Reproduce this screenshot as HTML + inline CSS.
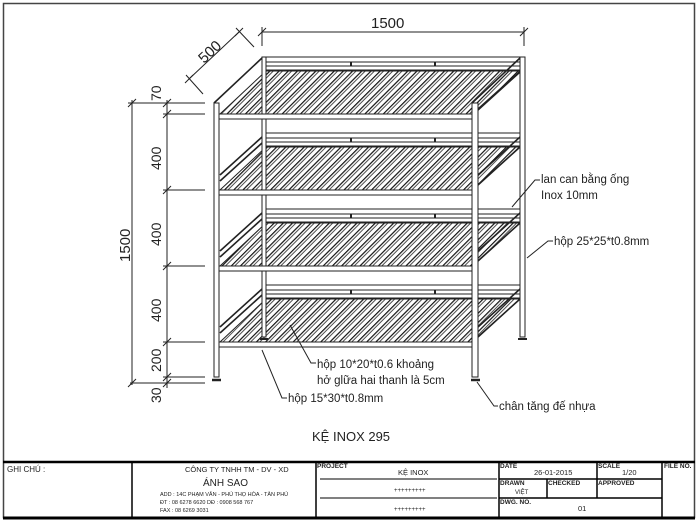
<!DOCTYPE html>
<html><head><meta charset="utf-8"><style>
body{margin:0;background:#fff}
svg{display:block;font-family:"Liberation Sans",sans-serif}
</style></head><body>
<svg width="700" height="522" viewBox="0 0 700 522" xmlns="http://www.w3.org/2000/svg">
<defs>
<pattern id="h" width="6.5" height="6.5" patternUnits="userSpaceOnUse" patternTransform="rotate(45)">
<line x1="0.6" y1="0" x2="0.6" y2="6.5" stroke="#111" stroke-width="1.2"/>
<line x1="3" y1="0" x2="3" y2="6.5" stroke="#222" stroke-width="0.8"/>
</pattern>
</defs>
<rect x="0" y="0" width="700" height="522" fill="#fff"/>
<rect x="3.5" y="3.5" width="691" height="514" fill="none" stroke="#444" stroke-width="1.5"/>
<line x1="3" y1="462" x2="695" y2="462" stroke="#000" stroke-width="2.5"/>
<line x1="3" y1="518" x2="695" y2="518" stroke="#000" stroke-width="3"/>

<g stroke="#222" fill="none" stroke-width="1">
<polygon points="220,114 472,114 520,71 266,71" fill="url(#h)"/>
<polygon points="220,190 472,190 520,147 266,147" fill="url(#h)"/>
<polygon points="220,266 472,266 520,223 266,223" fill="url(#h)"/>
<polygon points="220,342 472,342 520,299 266,299" fill="url(#h)"/>
<rect x="262" y="57" width="262" height="5"/>
<rect x="262" y="133" width="262" height="5"/>
<rect x="262" y="209" width="262" height="5"/>
<rect x="262" y="285" width="262" height="5"/>
<rect x="266" y="66" width="254" height="4"/>
<rect x="266" y="142" width="254" height="4"/>
<rect x="266" y="218" width="254" height="4"/>
<rect x="266" y="294" width="254" height="4"/>
<g stroke-width="2">
<line x1="351" y1="62" x2="351" y2="66"/><line x1="435" y1="62" x2="435" y2="66"/>
<line x1="351" y1="138" x2="351" y2="142"/><line x1="435" y1="138" x2="435" y2="142"/>
<line x1="351" y1="214" x2="351" y2="218"/><line x1="435" y1="214" x2="435" y2="218"/>
<line x1="351" y1="290" x2="351" y2="294"/><line x1="435" y1="290" x2="435" y2="294"/>
</g>
<rect x="262" y="57" width="4" height="280" fill="#fff"/>
<rect x="520" y="57" width="5" height="280" fill="#fff"/>
<line x1="260" y1="339" x2="268" y2="339" stroke-width="2"/>
<line x1="518" y1="339" x2="527" y2="339" stroke-width="2"/>
<g stroke-width="1.6">
<line x1="214" y1="103" x2="262" y2="58"/><line x1="472" y1="103" x2="520" y2="58"/>
<line x1="220" y1="175" x2="262" y2="137"/><line x1="478" y1="175" x2="520" y2="137"/>
<line x1="220" y1="251" x2="262" y2="213"/><line x1="478" y1="251" x2="520" y2="213"/>
<line x1="220" y1="327" x2="262" y2="289"/><line x1="478" y1="327" x2="520" y2="289"/>
<line x1="220" y1="181" x2="262" y2="143"/><line x1="220" y1="257" x2="262" y2="219"/>
<line x1="220" y1="333" x2="262" y2="295"/>
<line x1="478" y1="185" x2="520" y2="147"/><line x1="478" y1="261" x2="520" y2="223"/>
<line x1="478" y1="337" x2="520" y2="299"/><line x1="478" y1="110" x2="520" y2="72"/>
</g>
<rect x="219" y="114" width="254" height="5" fill="#fff"/>
<rect x="219" y="190" width="254" height="5" fill="#fff"/>
<rect x="219" y="266" width="254" height="5" fill="#fff"/>
<rect x="219" y="342" width="254" height="5" fill="#fff"/>
<rect x="214" y="103" width="5" height="274" fill="#fff"/>
<rect x="472" y="103" width="6" height="274" fill="#fff"/>
<line x1="212" y1="380" x2="221" y2="380" stroke-width="2.5"/>
<line x1="471" y1="380" x2="480" y2="380" stroke-width="2.5"/>

<line x1="132" y1="100" x2="132" y2="385"/>
<line x1="167" y1="100" x2="167" y2="388"/>
<line x1="128" y1="103" x2="205" y2="103"/>
<line x1="130" y1="383" x2="205" y2="383"/>
<line x1="163" y1="114" x2="205" y2="114"/>
<line x1="163" y1="190" x2="205" y2="190"/>
<line x1="163" y1="266" x2="205" y2="266"/>
<line x1="163" y1="342" x2="205" y2="342"/>
<line x1="163" y1="377" x2="205" y2="377"/>
<line x1="128" y1="107" x2="136" y2="99"/><line x1="128" y1="387" x2="136" y2="379"/>
<line x1="163" y1="107" x2="171" y2="99"/><line x1="163" y1="118" x2="171" y2="110"/>
<line x1="163" y1="194" x2="171" y2="186"/><line x1="163" y1="270" x2="171" y2="262"/>
<line x1="163" y1="346" x2="171" y2="338"/><line x1="163" y1="381" x2="171" y2="373"/>
<line x1="163" y1="387" x2="171" y2="379"/>
<line x1="262" y1="32" x2="524" y2="32"/>
<line x1="262" y1="27" x2="262" y2="46"/><line x1="524" y1="27" x2="524" y2="46"/>
<line x1="258" y1="36" x2="266" y2="28"/><line x1="520" y1="36" x2="528" y2="28"/>
<line x1="189" y1="79" x2="239" y2="32"/>
<line x1="186" y1="75" x2="203" y2="94"/><line x1="236" y1="28" x2="254" y2="47"/>
<line x1="185" y1="83" x2="193" y2="75"/><line x1="235" y1="36" x2="243" y2="28"/>
<polyline points="512,207 535,180 540,180"/>
<polyline points="527,258 548,241 553,241"/>
<polyline points="290,325 311,363 316,363"/>
<polyline points="262,350 282,398 287,398"/>
<polyline points="477,382 494,406 498,406"/>
</g>

<g fill="#222" font-size="14">
<text x="371" y="28" font-size="15">1500</text>
<text transform="translate(204,64) rotate(-43)" font-size="15">500</text>
<text transform="translate(130,262) rotate(-90)" font-size="15">1500</text>
<text transform="translate(161,101) rotate(-90)">70</text>
<text transform="translate(161,170) rotate(-90)">400</text>
<text transform="translate(161,246) rotate(-90)">400</text>
<text transform="translate(161,322) rotate(-90)">400</text>
<text transform="translate(161,372) rotate(-90)">200</text>
<text transform="translate(161,403) rotate(-90)">30</text>
</g>
<g fill="#222" font-size="11.5">
<text x="541" y="183">lan can bằng ống</text>
<text x="541" y="199">Inox 10mm</text>
<text x="554" y="245">hộp 25*25*t0.8mm</text>
<text x="317" y="368">hộp 10*20*t0.6 khoảng</text>
<text x="317" y="384">hở glữa hai thanh là 5cm</text>
<text x="288" y="402">hộp 15*30*t0.8mm</text>
<text x="499" y="410">chân tăng đế nhựa</text>
<text x="312" y="441" font-size="13">KỆ INOX 295</text>
</g>

<g stroke="#000" fill="none" stroke-width="1.5">
<line x1="132" y1="462" x2="132" y2="518"/>
<line x1="316" y1="462" x2="316" y2="518"/>
<line x1="499" y1="462" x2="499" y2="518"/>
<line x1="662" y1="462" x2="662" y2="518"/>
<line x1="597" y1="462" x2="597" y2="498"/>
<line x1="547" y1="479" x2="547" y2="498"/>
<line x1="499" y1="479" x2="662" y2="479"/>
<line x1="499" y1="498" x2="662" y2="498"/>
<line x1="320" y1="479" x2="497" y2="479" stroke-width="1"/>
<line x1="320" y1="498" x2="497" y2="498" stroke-width="1"/>
</g>
<g fill="#222" font-size="7">
<text x="7" y="472" font-size="8">GHI CHÚ :</text>
<text x="185" y="472" font-size="7.5">CÔNG TY TNHH TM - DV - XD</text>
<text x="203" y="486" font-size="10">ÁNH SAO</text>
<text x="160" y="496" font-size="5.5">ADD : 14C PHẠM VĂN - PHÚ THỌ HÒA - TÂN PHÚ</text>
<text x="160" y="504" font-size="5.5">ĐT   : 08 6278 6620    DĐ : 0908 568 767</text>
<text x="160" y="512" font-size="5.5">FAX  : 08 6269 3031</text>
<text x="317" y="468" font-weight="bold" font-size="6.5">PROJECT</text>
<text x="398" y="475" font-size="7.5">KỆ INOX</text>
<text x="394" y="492" font-size="6">+++++++++</text>
<text x="394" y="511" font-size="6">+++++++++</text>
<text x="500" y="468" font-weight="bold" font-size="6.5">DATE</text>
<text x="534" y="475" font-size="7.5">26-01-2015</text>
<text x="598" y="468" font-weight="bold" font-size="6.5">SCALE</text>
<text x="622" y="475" font-size="7.5">1/20</text>
<text x="664" y="468" font-weight="bold" font-size="6.5">FILE  NO.</text>
<text x="500" y="485" font-weight="bold" font-size="6.5">DRAWN</text>
<text x="515" y="494" font-size="6">VIỆT</text>
<text x="548" y="485" font-weight="bold" font-size="6.5">CHECKED</text>
<text x="598" y="485" font-weight="bold" font-size="6.5">APPROVED</text>
<text x="500" y="504" font-weight="bold" font-size="6.5">DWG.  NO.</text>
<text x="578" y="511" font-size="7.5">01</text>
</g>
</svg>
</body></html>
